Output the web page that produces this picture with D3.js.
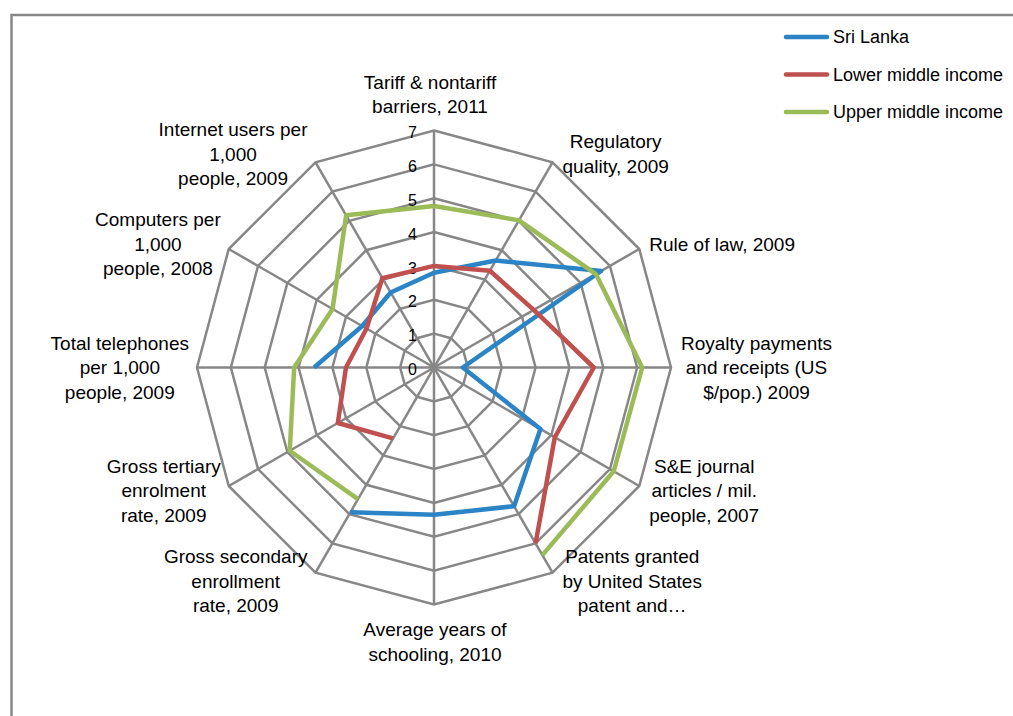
<!DOCTYPE html>
<html>
<head>
<meta charset="utf-8">
<script src="https://d3js.org/d3.v7.min.js"></script>
<style>
 body { margin: 0; background: #fff; }
 svg { display: block; font-family: "Liberation Sans", Arial, sans-serif; }
</style>
</head>
<body>
<svg width="1013" height="716"></svg>
<script>
// axis labels, clockwise from the top, already broken into lines
const axes = [
  ["Tariff & nontariff", "barriers, 2011"],
  ["Regulatory", "quality, 2009"],
  ["Rule of law,  2009"],
  ["Royalty payments", "and receipts (US", "$/pop.) 2009"],
  ["S&E journal", "articles / mil.", "people, 2007"],
  ["Patents granted", "by United  States", "patent and…"],
  ["Average years of", "schooling, 2010"],
  ["Gross secondary", "enrollment", "rate, 2009"],
  ["Gross tertiary", "enrolment", "rate, 2009"],
  ["Total telephones", "per 1,000", "people, 2009"],
  ["Computers per", "1,000", "people, 2008"],
  ["Internet users per", "1,000", "people, 2009"]
];

const seriesNames = ["Sri Lanka", "Lower middle income", "Upper middle income"];
const seriesColors = ["#2a84c6", "#c0504d", "#9bbb59"];

// null = no value (gap in the line)
const sriLanka    = [2.8, 3.65, 5.7, 0.85, 3.63, 4.73, 4.35, 4.94, null, 3.54, 2.45, 2.56];
const lowerMiddle = [3.0, 3.3, 3.4, 4.72, 4.12, 6.0, null, 2.42, 3.28, 2.6, 2.3, 3.05];
const upperMiddle = [4.77, 5.02, 5.52, 6.15, 6.13, 6.4, null, 4.49, 4.92, 4.13, 3.46, 5.19];

const ticks = [0, 1, 2, 3, 4, 5, 6, 7];

const svg = d3.select("svg");
const width = +svg.attr("width");
const height = +svg.attr("height");

const cx = 434, cy = 367.5, R = 237;
const gridColor = "#878787";

// chart area border (only top and left are visible)
svg.append("path")
   .attr("d", `M11.5,${height} V15 H${width}`)
   .attr("fill", "none")
   .attr("stroke", gridColor)
   .attr("stroke-width", 2.5);

const rScale = d3.scaleLinear().domain([0, 7]).range([0, R]);
const angle = i => i * 2 * Math.PI / axes.length;

const g = svg.append("g").attr("transform", `translate(${cx},${cy})`);

// rings
const ring = d3.lineRadial()
  .angle((d, i) => angle(i))
  .radius(d => rScale(d))
  .curve(d3.curveLinearClosed);

g.selectAll(".ring")
 .data(ticks.filter(t => t > 0))
 .join("path")
 .attr("class", "ring")
 .attr("d", t => ring(axes.map(() => t)))
 .attr("fill", "none")
 .attr("stroke", gridColor)
 .attr("stroke-width", 2.5);

// spokes
g.selectAll(".spoke")
 .data(axes)
 .join("line")
 .attr("class", "spoke")
 .attr("x1", 0).attr("y1", 0)
 .attr("x2", (d, i) => rScale(7) * Math.sin(angle(i)))
 .attr("y2", (d, i) => -rScale(7) * Math.cos(angle(i)))
 .attr("stroke", gridColor)
 .attr("stroke-width", 2.5);

// tick labels along the top spoke
g.selectAll(".tick")
 .data(ticks)
 .join("text")
 .attr("class", "tick")
 .attr("x", -17)
 .attr("y", t => -rScale(t) + 2)
 .attr("dy", "0.35em")
 .attr("text-anchor", "end")
 .attr("font-size", 16)
 .text(t => t);

// series
const allSeries = [sriLanka, lowerMiddle, upperMiddle];
const line = d3.lineRadial()
  .defined(d => d.v != null)
  .angle(d => angle(d.i))
  .radius(d => rScale(d.v));

allSeries.forEach((vals, k) => {
  const pts = vals.map((v, i) => ({i, v}));
  pts.push({i: vals.length, v: vals[0]}); // close the loop
  g.append("path")
   .attr("d", line(pts))
   .attr("fill", "none")
   .attr("stroke", seriesColors[k])
   .attr("stroke-width", 4.5)
   .attr("stroke-linejoin", "round");
});

// axis labels
const lh = 24.5;
axes.forEach((lines, i) => {
  const a = angle(i);
  const vx = cx + R * Math.sin(a);
  const vy = cy - R * Math.cos(a);
  const t = svg.append("text").attr("font-size", 19).attr("text-anchor", "middle");
  lines.forEach((s, j) => t.append("tspan").text(s));
  const tspans = t.selectAll("tspan");
  let w = 0;
  tspans.each(function () { w = Math.max(w, this.getComputedTextLength()); });
  let x, y0;
  const s = Math.sin(a);
  if (s > 0.1) {
    x = vx + 10 + w / 2;
    y0 = vy - 9.5 * Math.cos(a) - (lines.length - 1) * lh / 2;
  } else if (s < -0.1) {
    x = vx - 8 - w / 2;
    y0 = vy - 9.5 * Math.cos(a) - (lines.length - 1) * lh / 2;
  } else if (Math.cos(a) > 0) {
    x = vx - 4;
    y0 = vy - 24 - (lines.length - 1) * lh;
  } else {
    x = vx + 1;
    y0 = vy + 25;
  }
  tspans.attr("x", x).attr("y", (d, j) => y0 + j * lh).attr("dy", "0.35em");
});

// legend
const legend = svg.append("g").attr("transform", "translate(786,37)");
seriesNames.forEach((name, k) => {
  const row = legend.append("g").attr("transform", `translate(0,${k * 37.5})`);
  row.append("line")
     .attr("x1", 0).attr("x2", 41)
     .attr("stroke", seriesColors[k])
     .attr("stroke-width", 4.5)
     .attr("stroke-linecap", "round");
  row.append("text")
     .attr("x", 47)
     .attr("dy", "0.35em")
     .attr("font-size", 18)
     .text(name);
});
</script>
</body>
</html>
